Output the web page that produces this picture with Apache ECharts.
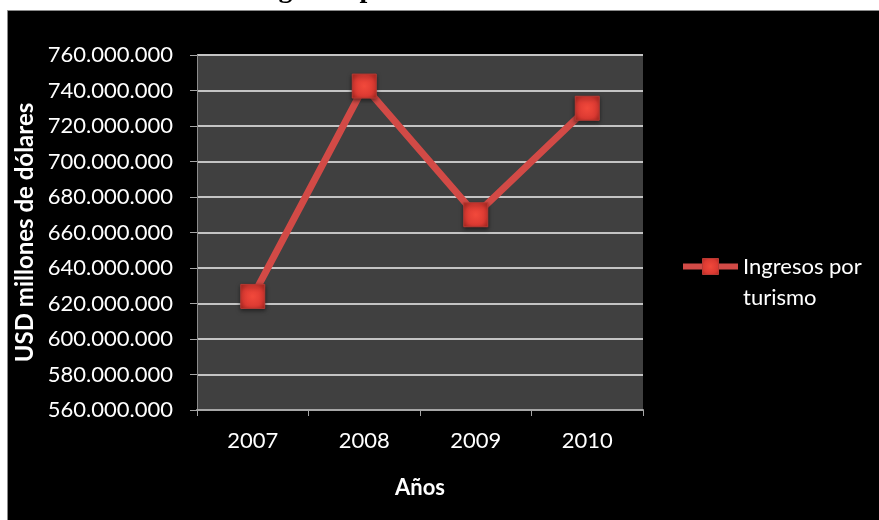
<!DOCTYPE html>
<html>
<head>
<meta charset="utf-8">
<script src="https://cdn.jsdelivr.net/npm/echarts@6/dist/echarts.min.js"></script>
<style>html,body{margin:0;padding:0;background:#fff;}#c{width:879px;height:520px;}</style>
</head>
<body>
<div id="c"></div>
<script>
var titleText = 'Ingresos por turismo';
var categories = ['2007', '2008', '2009', '2010'];
var seriesName = 'Ingresos por turismo';
var values = [624000000, 742500000, 670000000, 730000000];
var yMin = 560000000, yMax = 760000000, yStep = 20000000;
var xAxisName = 'Años';
var yAxisName = 'USD millones de dólares';

function fmt(v) { return String(Math.round(v)).replace(/\B(?=(\d{3})+(?!\d))/g, '.'); }

var chart = echarts.init(document.getElementById('c'));
var FONT = 'Lato';
var LH = 31;
var markerColor = {
  type: 'radial', x: 0.5, y: 0.5, r: 0.7,
  colorStops: [{ offset: 0, color: '#f2493b' }, { offset: 0.6, color: '#dc3a32' }, { offset: 1, color: '#a82620' }]
};
chart.setOption({
  backgroundColor: '#ffffff',
  animation: false,
  graphic: [{
    type: 'rect', z: -10, silent: true,
    shape: { x: 7.5, y: 10.5, width: 880, height: 520 },
    style: { fill: '#000000', stroke: '#8a8a8a', lineWidth: 1 }
  }],
  title: {
    text: titleText, left: 252, top: -24, padding: 0,
    textStyle: { fontFamily: 'Liberation Serif', fontWeight: 'bold', fontSize: 28, color: '#000' }
  },
  grid: {
    left: 197, right: 236, top: 55, bottom: 110,
    show: true, backgroundColor: '#404040', borderWidth: 0
  },
  legend: {
    left: 680, top: 220, padding: 0,
    itemWidth: 55, itemHeight: 20, itemGap: 10,
    data: [seriesName],
    formatter: function (n) { var i = n.lastIndexOf(' '); return '\n' + n.slice(0, i) + '\n' + n.slice(i + 1); },
    lineStyle: { width: 6, color: '#d24a46' },
    itemStyle: { color: markerColor, borderColor: '#b83a33', borderWidth: 1 },
    textStyle: { color: '#ffffff', fontFamily: FONT, fontSize: 22, lineHeight: LH }
  },
  xAxis: {
    type: 'category', data: categories, boundaryGap: true,
    name: xAxisName, nameLocation: 'middle', nameGap: 67,
    nameTextStyle: { color: '#ffffff', fontFamily: FONT, fontWeight: 'bold', fontSize: 22 },
    axisLine: { show: true, lineStyle: { color: '#a6a6a6', width: 2 } },
    axisTick: { show: true, length: 6, lineStyle: { color: '#a6a6a6' } },
    axisLabel: { color: '#ffffff', fontFamily: FONT, fontSize: 22, margin: 20 },
    splitLine: { show: false }
  },
  yAxis: {
    type: 'value', min: yMin, max: yMax, interval: yStep,
    name: yAxisName, nameLocation: 'middle', nameGap: 160, nameRotate: 90,
    nameTextStyle: { color: '#ffffff', fontFamily: FONT, fontWeight: 'bold', fontSize: 24 },
    axisLine: { show: true, lineStyle: { color: '#8c8c8c', width: 1 } },
    axisTick: { show: true, length: 7, lineStyle: { color: '#a6a6a6' } },
    axisLabel: { color: '#ffffff', fontFamily: FONT, fontSize: 22, margin: 24, formatter: fmt },
    splitLine: { show: true, lineStyle: { color: '#c4c4c4', width: 2 } }
  },
  series: [{
    name: seriesName, type: 'line', data: values,
    symbol: 'rect', symbolSize: 24,
    lineStyle: { color: '#d24a46', width: 7 },
    itemStyle: {
      color: markerColor,
      borderColor: '#b83a33', borderWidth: 1,
      shadowColor: 'rgba(0,0,0,0.5)', shadowBlur: 4, shadowOffsetY: 2
    }
  }]
});
</script>
</body>
</html>
